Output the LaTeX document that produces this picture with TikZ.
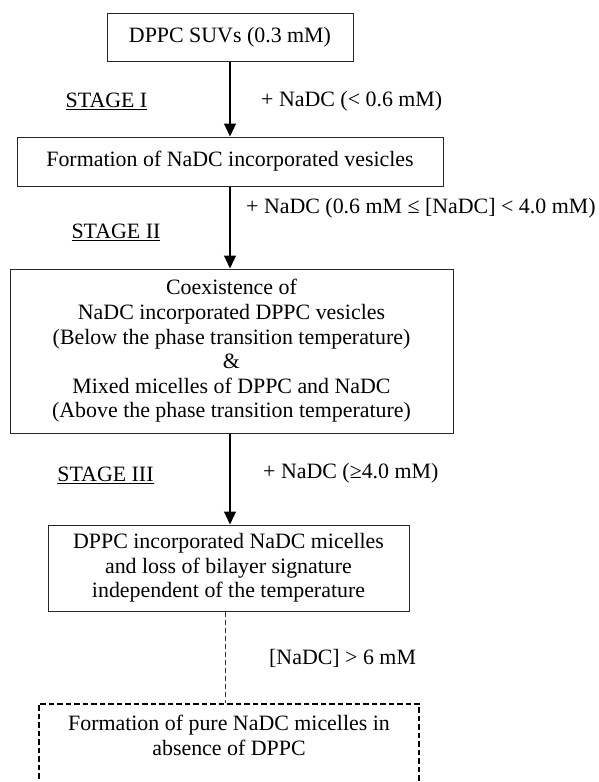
\documentclass[tikz,border=0pt]{standalone}
\usepackage{fontspec}
\setmainfont{Liberation Serif}
\usetikzlibrary{arrows.meta}
\begin{document}
\begin{tikzpicture}[x=1pt,y=-1pt,
  txt/.style={font=\fontsize{21.9}{24.6}\selectfont},
  box/.style={txt, draw=black!85, line width=1pt, align=center, inner sep=0pt},
  lbl/.style={txt, inner sep=0pt},
  arr/.style={line width=1.2pt, -{Triangle[length=13pt,width=12pt]}},
  dashbox/.style={draw=black, line width=1.8pt, dash pattern=on 5.5pt off 3pt},
  dashline/.style={draw=black!80, line width=1pt, dash pattern=on 5pt off 3pt}]
\useasboundingbox (0,0) rectangle (599,782);
\clip (0,0) rectangle (599,782);

\node[box, minimum width=246pt, minimum height=48pt] (box1) at (230,37) {DPPC SUVs (0.3 mM)};
\node[box, minimum width=426pt, minimum height=49pt] (box2) at (230,161.5) {Formation of NaDC incorporated vesicles};
\node[box, minimum width=443pt, minimum height=164pt] (box3) at (231.5,351)
  {Coexistence of\\NaDC incorporated DPPC vesicles\\(Below the phase transition temperature)\\\&\\Mixed micelles of DPPC and NaDC\\(Above the phase transition temperature)};
\node[box, minimum width=361pt, minimum height=86pt] (box4) at (228.5,568)
  {DPPC incorporated NaDC micelles\\and loss of bilayer signature\\independent of the temperature};
\node[dashbox, minimum width=380.5pt, minimum height=130pt, anchor=north, inner sep=0pt] (box5) at (229,703) {};
\node[lbl, align=center, anchor=north] (box5text) at (229,715)
  {Formation of pure NaDC micelles in\\absence of DPPC};

\node[lbl] (st1) at (106.5,101) {\underline{STAGE I}};
\node[lbl] (st2) at (116,232) {\underline{STAGE II}};
\node[lbl] (st3) at (105.5,475) {\underline{STAGE III}};

\node[lbl, anchor=west] (c1) at (261,101) {+ NaDC (< 0.6 mM)};
\node[lbl, anchor=west] (c2) at (246,208) {+ NaDC (0.6 mM ≤ [NaDC] < 4.0 mM)};
\node[lbl, anchor=west] (c3) at (263,473) {+ NaDC (≥4.0 mM)};
\node[lbl, anchor=west] (c4) at (269,658) {[NaDC] > 6 mM};

\draw[arr] (box1.south) -- (box2.north);
\draw[arr] (box2.south) -- (box2.south |- box3.north);
\draw[arr] (box2.south |- box3.south) -- (box2.south |- box4.north);
\draw[dashline] ([xshift=-3.5pt]box4.south) -- ([xshift=-4pt]box5.north);
\end{tikzpicture}
\end{document}
